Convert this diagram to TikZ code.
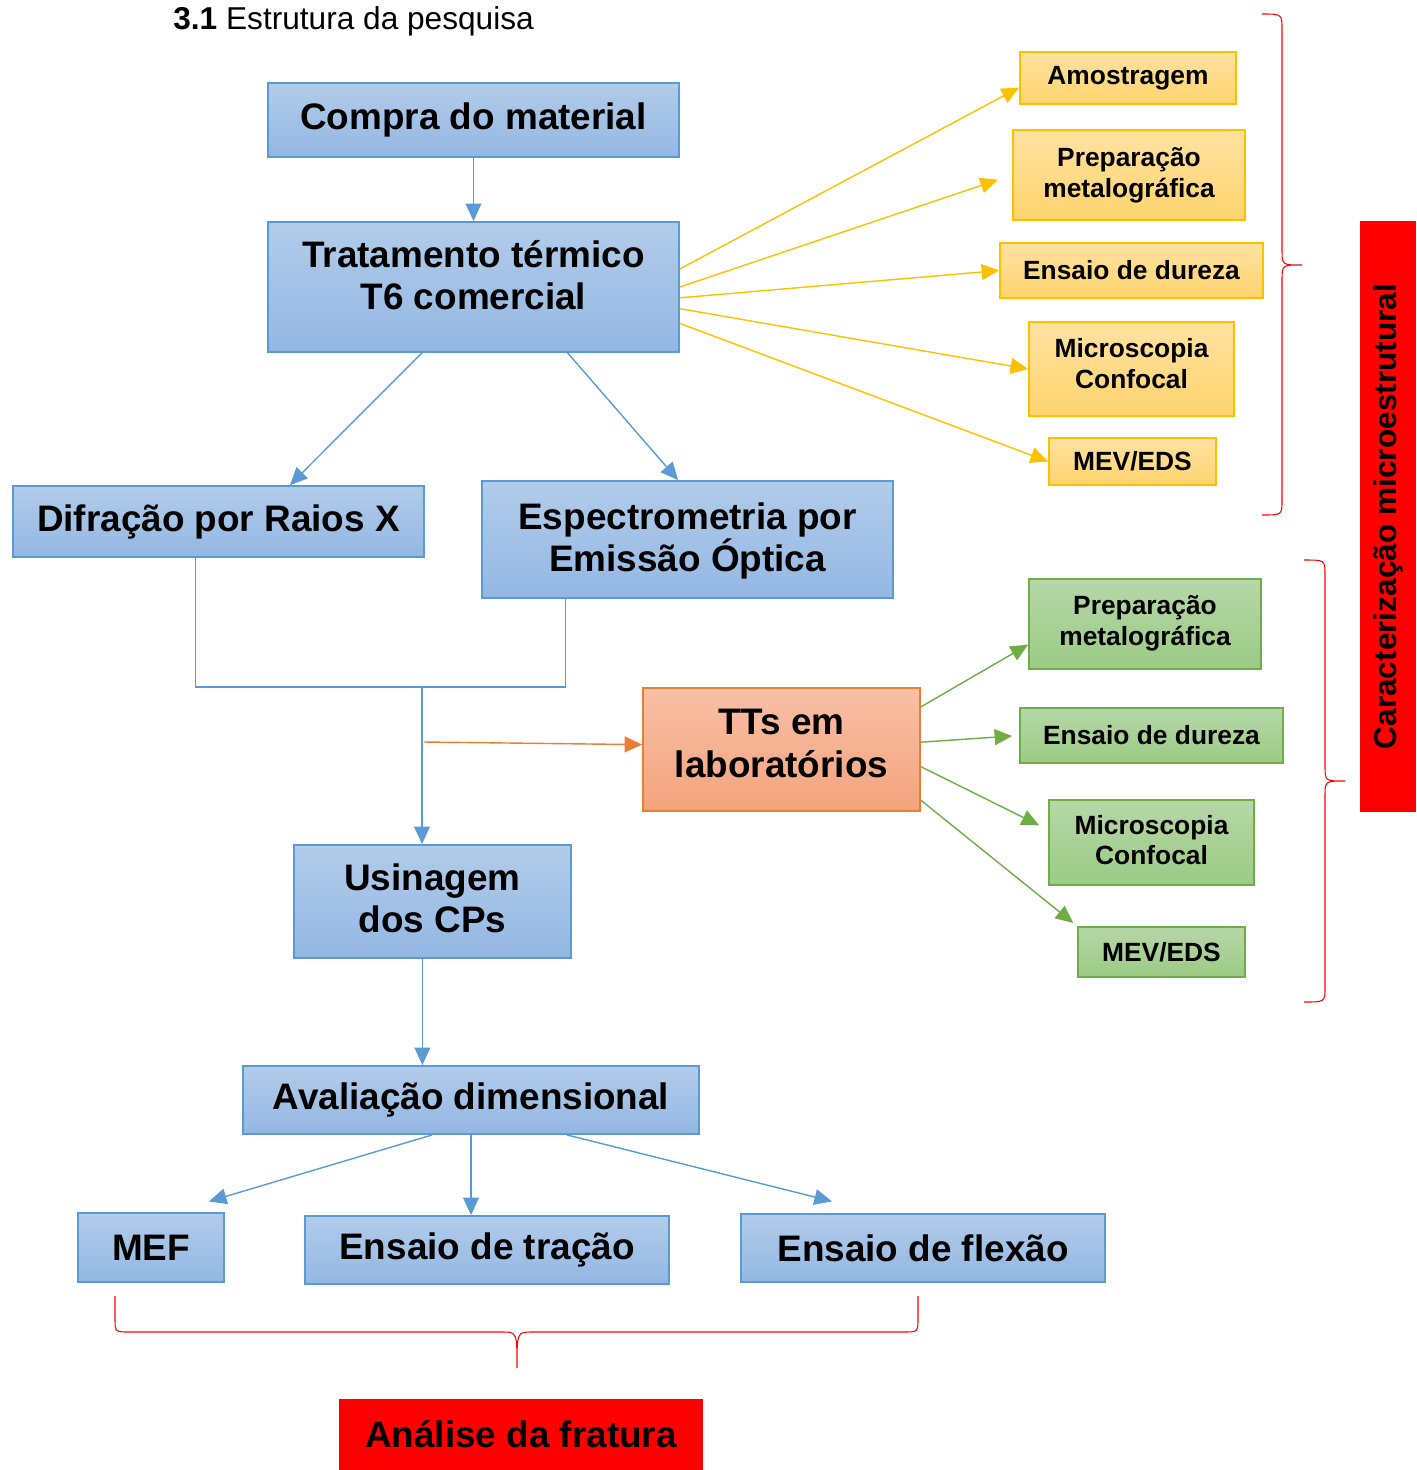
\documentclass[tikz,border=0pt]{standalone}
\usepackage{fontspec}
\setmainfont{Liberation Sans}
\usetikzlibrary{positioning,arrows.meta}
\definecolor{blueTop}{HTML}{B2CCEA}
\definecolor{blueBot}{HTML}{93B7E3}
\definecolor{blueLine}{HTML}{5B9BD5}
\definecolor{yelTop}{HTML}{FFE2A1}
\definecolor{yelBot}{HTML}{FFD46F}
\definecolor{yelLine}{HTML}{FFC000}
\definecolor{greTop}{HTML}{B6D7A8}
\definecolor{greBot}{HTML}{9BCB84}
\definecolor{greLine}{HTML}{70AD47}
\definecolor{orgTop}{HTML}{F8C0A6}
\definecolor{orgBot}{HTML}{F4A37D}
\definecolor{orgLine}{HTML}{ED7D31}
\newcommand{\bigtext}{\fontsize{21}{24}\selectfont\bfseries}
\newcommand{\midtext}{\fontsize{18}{21}\selectfont\bfseries}
\newcommand{\smalltext}{\fontsize{15}{17.5}\selectfont\bfseries}
\tikzset{
    bluebox/.style = {
        draw=blueLine,
        shape=rectangle,
        top color=blueTop,
        bottom color=blueBot,
        line width=1pt,
        inner sep=0pt,
        align=center,
        font=\bigtext
    },
    orgbox/.style = {
        bluebox,
        draw=orgLine,
        top color=orgTop,
        bottom color=orgBot
    },
    yelbox/.style = {
        bluebox,
        draw=yelLine,
        top color=yelTop,
        bottom color=yelBot,
        font=\smalltext
    },
    grebox/.style = {
        bluebox,
        draw=greLine,
        top color=greTop,
        bottom color=greBot,
        font=\smalltext
    },
    redbox/.style = {
        shape=rectangle,
        fill=red,
        inner sep=0pt,
        align=center,
        font=\bigtext
    },
    blueline/.style = {draw=blueLine, line width=0.8pt},
    yelline/.style = {draw=yelLine, line width=0.8pt},
    greline/.style = {draw=greLine, line width=0.8pt},
    orgline/.style = {draw=orgLine, line width=0.8pt},
    bracel/.style = {draw=red, line width=0.6pt},
    >={Triangle[length=10pt,width=9pt]},
}

\begin{document}
\begin{tikzpicture}[x=0.02cm, y=-0.02cm]
            \useasboundingbox (0,0) rectangle (1416,1470);

            \node[anchor=west, inner sep=0pt, font=\fontsize{18}{21}\selectfont] (title) at (173,21) {\textbf{3.1} Estrutura da pesquisa};

            % main column
            \node[bluebox, minimum width=8.22cm, minimum height=1.48cm] (compra) at (473.5,120) {Compra do material};
            \node[bluebox, minimum width=8.22cm, minimum height=2.6cm, text depth=14pt] (trat) at (473.5,287) {Tratamento térmico\\T6 comercial};
            \node[bluebox, minimum width=8.22cm, minimum height=1.42cm] (difr) at (218.5,521.5) {Difração por Raios X};
            \node[bluebox, minimum width=8.22cm, minimum height=2.34cm, text depth=3pt] (espec) at (687.5,539.5) {Espectrometria por\\Emissão Óptica};
            \node[orgbox, minimum width=5.54cm, minimum height=2.46cm, text depth=7pt] (tts) at (781.5,749.5) {TTs em\\laboratórios};
            \node[bluebox, minimum width=5.54cm, minimum height=2.26cm, text depth=4pt] (usin) at (432.5,901.5) {Usinagem\\dos CPs};
            \node[bluebox, minimum width=9.12cm, minimum height=1.36cm] (aval) at (471,1100) {Avaliação dimensional};
            \node[bluebox, minimum width=2.92cm, minimum height=1.38cm] (mef) at (151,1247.5) {MEF};
            \node[bluebox, minimum width=7.28cm, minimum height=1.36cm] (tracao) at (487,1250) {Ensaio de tração};
            \node[bluebox, minimum width=7.28cm, minimum height=1.36cm] (flexao) at (923,1248) {Ensaio de flexão};
            \node[redbox, minimum width=7.28cm, minimum height=1.42cm] (analise) at (521,1434.5) {Análise da fratura};

            % yellow group
            \node[yelbox, minimum width=4.32cm, minimum height=1.04cm] (yamo) at (1128,78) {Amostragem};
            \node[yelbox, minimum width=4.64cm, minimum height=1.8cm] (yprep) at (1129,175) {Preparação\\metalográfica};
            \node[yelbox, minimum width=5.26cm, minimum height=1.1cm] (ydur) at (1131.5,270.5) {Ensaio de dureza};
            \node[yelbox, minimum width=4.1cm, minimum height=1.88cm, text depth=6pt] (ymic) at (1131.5,369) {Microscopia\\Confocal};
            \node[yelbox, minimum width=3.34cm, minimum height=0.94cm] (ymev) at (1132.5,461.5) {MEV/EDS};

            % green group
            \node[grebox, minimum width=4.64cm, minimum height=1.8cm, text depth=4pt] (gprep) at (1145,624) {Preparação\\metalográfica};
            \node[grebox, minimum width=5.26cm, minimum height=1.1cm] (gdur) at (1151.5,735.5) {Ensaio de dureza};
            \node[grebox, minimum width=4.1cm, minimum height=1.7cm, text depth=3pt] (gmic) at (1151.5,842.5) {Microscopia\\Confocal};
            \node[grebox, minimum width=3.34cm, minimum height=1.0cm] (gmev) at (1161.5,952) {MEV/EDS};

            \node[redbox, rotate=90, minimum width=11.82cm, minimum height=1.12cm, font=\midtext] (caract) at (1388,516.5) {Caracterização microestrutural};

            \coordinate (junc) at (422,687);
            \coordinate (tap) at (424,742);

            \path[draw, blueline, ->] (compra) -- (trat);
            \path[draw, blueline, ->] (trat.232) -- (difr.27);
            \path[draw, blueline, ->] (trat.325) -- (espec.99);
            \path[draw, blueline] (difr.238) |- (junc) -| (espec.206);
            \path[draw, blueline, ->] (junc) -- (junc |- usin.north);
            \path[draw, orgline, ->] (tap) -- (tts.178);
            \path[draw, blueline, ->] (usin.260) -- (usin.260 |- aval.north);
            \path[draw, blueline, ->, shorten >=0.75cm] (aval.222) -- ([xshift=0.44cm]mef.north);
            \path[draw, blueline, ->] (aval.south) -- (aval.south |- tracao.north);
            \path[draw, blueline, ->, shorten >=0.97cm] (aval.340) -- ([xshift=-0.88cm]flexao.north);

            \path[draw, yelline, ->] (trat.5) -- (yamo.185);
            \path[draw, yelline, ->, shorten >=0.3cm] (trat.0) -- (yprep.180);
            \path[draw, yelline, ->] (trat.357) -- (ydur.west);
            \path[draw, yelline, ->] (trat.354) -- (ymic.west);
            \path[draw, yelline, ->] (trat.350) -- (ymev.west);

            \path[draw, greline, ->] (tts.17) -- (gprep.190);
            \path[draw, greline, ->, shorten >=0.14cm] (tts.3) -- (gdur.west);
            \path[draw, greline, ->, shorten >=0.2cm] (tts.353) -- (gmic.173);
            \path[draw, greline, ->, shorten >=0.1cm] (tts.340) -- (gmev.north west);

            % braces
            \path[draw, bracel] (1262,14) .. controls (1282,14) .. (1282,30) -- (1282,250)
            .. controls (1282,265) .. (1302,265) .. controls (1282,265) .. (1282,280)
            -- (1282,500) .. controls (1282,515) .. (1262,515);
            \path[draw, bracel] (1304,560) .. controls (1325,560) .. (1325,575) -- (1325,766)
            .. controls (1325,781) .. (1345,781) .. controls (1325,781) .. (1325,796)
            -- (1325,987) .. controls (1325,1002) .. (1304,1002);
            \path[draw, bracel] (115,1296) -- (115,1318) .. controls (115,1332) .. (130,1332)
            -- (502,1332) .. controls (517,1332) .. (517,1368) .. controls (517,1332) .. (532,1332)
            -- (903,1332) .. controls (918,1332) .. (918,1318) -- (918,1296);
        \end{tikzpicture}
\end{document}
